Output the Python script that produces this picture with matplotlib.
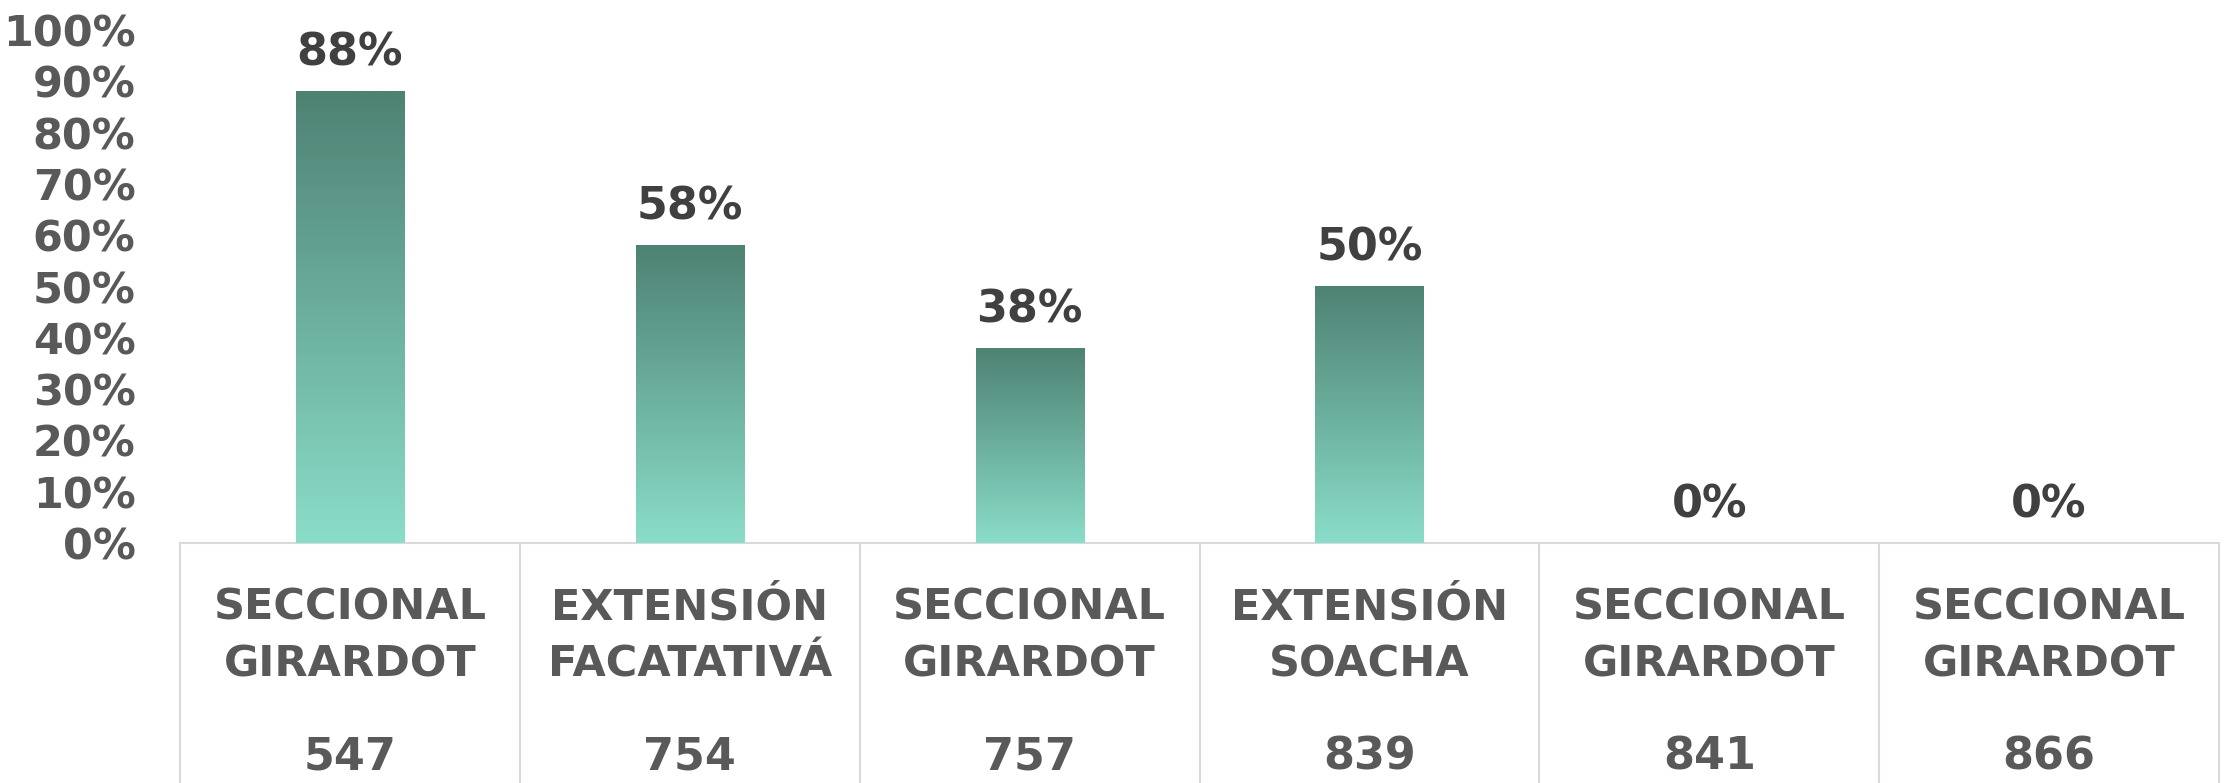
import numpy as np
import matplotlib.pyplot as plt
from matplotlib.colors import LinearSegmentedColormap
import matplotlib.transforms as mtransforms

sedes = ['SECCIONAL\nGIRARDOT', 'EXTENSIÓN\nFACATATIVÁ', 'SECCIONAL\nGIRARDOT',
         'EXTENSIÓN\nSOACHA', 'SECCIONAL\nGIRARDOT', 'SECCIONAL\nGIRARDOT']
codigos = ['547', '754', '757', '839', '841', '866']
porcentajes = [0.88, 0.58, 0.38, 0.50, 0.0, 0.0]

plt.rcParams['font.family'] = ['DejaVu Sans']
plt.rcParams['font.weight'] = 'bold'

fig = plt.figure(figsize=(22.26, 7.83), dpi=100)
ax = fig.add_axes([180 / 2226, 1 - 543 / 783, 2039 / 2226, 513 / 783])

cmap = LinearSegmentedColormap.from_list('verde', ['#8ADDC9', '#4E8273'])
grad = np.linspace(0, 1, 256).reshape(-1, 1)

x = np.arange(len(sedes))
ancho = 0.318
bars = ax.bar(x, porcentajes, width=ancho, color='none', edgecolor='none')
for b, v in zip(bars, porcentajes):
    if v > 0:
        ax.imshow(grad, cmap=cmap, origin='lower', aspect='auto', zorder=2,
                  extent=[b.get_x(), b.get_x() + b.get_width(), 0, v])
    ax.annotate('{:.0%}'.format(v), (b.get_x() + b.get_width() / 2, v),
                xytext=(0, 12), textcoords='offset points', ha='center', va='bottom',
                fontsize=32, fontweight='bold', color='#404040')

ax.set_xlim(-0.5, len(sedes) - 0.5)
ax.set_ylim(0, 1.0)
ax.set_yticks(np.arange(0, 1.01, 0.1))
ax.set_yticklabels(['{:.0%}'.format(t) for t in np.arange(0, 1.01, 0.1)])
ax.tick_params(axis='y', length=0, pad=32, labelsize=31, labelcolor='#595959')
ax.set_xticks([])
for s in ax.spines.values():
    s.set_visible(False)

# tabla de categorias bajo el eje
trans = mtransforms.blended_transform_factory(ax.transData, ax.transAxes)
ax.plot([-0.5, len(sedes) - 0.5], [0, 0], transform=trans, color='#D9D9D9',
        lw=1.5, clip_on=False, zorder=1)
for xi in np.arange(-0.5, len(sedes), 1.0):
    ax.plot([xi, xi], [0, -0.6], transform=trans, color='#D9D9D9',
            lw=1.5, clip_on=False, zorder=1)
for xi, s, c in zip(x, sedes, codigos):
    ax.text(xi, -0.181, s, transform=trans, ha='center', va='center',
            fontsize=31, fontweight='bold', color='#595959', linespacing=1.45)
    ax.text(xi, -0.418, c, transform=trans, ha='center', va='center',
            fontsize=32, fontweight='bold', color='#595959')

fig.savefig('out.png', dpi=100)
